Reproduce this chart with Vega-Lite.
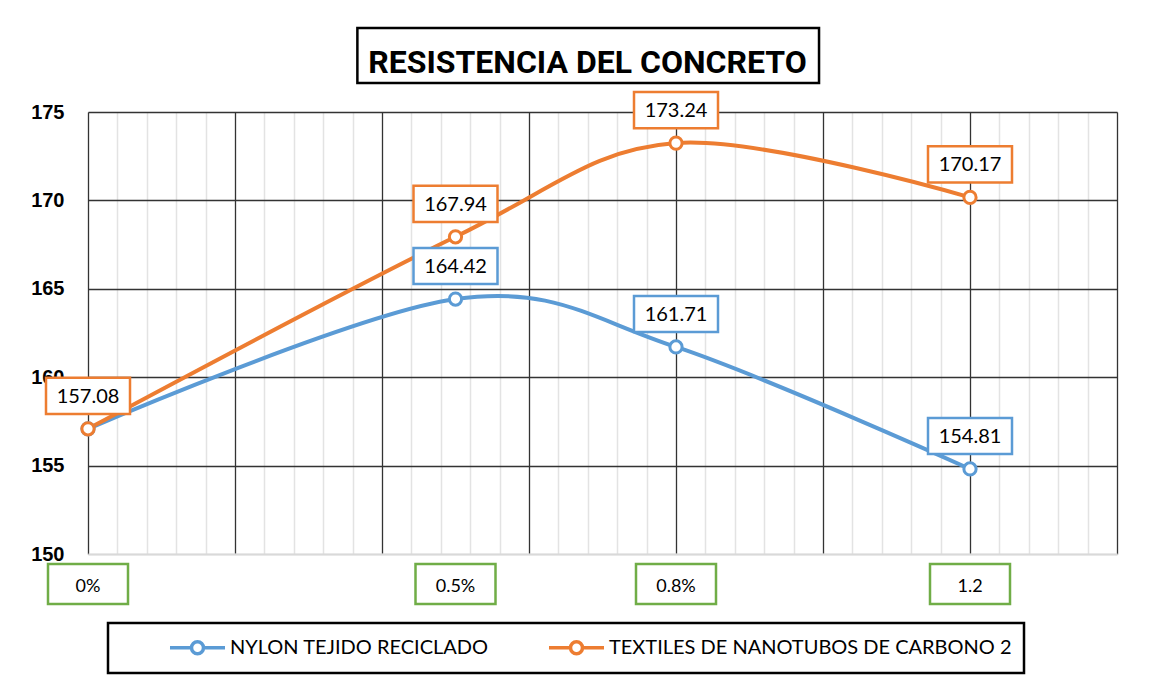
{
  "$schema": "https://vega.github.io/schema/vega-lite/v6.json",
  "width": 1029,
  "height": 442,
  "autosize": {"type": "none"},
  "padding": {"left": 88, "top": 112, "right": 36, "bottom": 126},
  "background": "white",
  "title": {
    "text": "RESISTENCIA DEL CONCRETO",
    "font": "Roboto",
    "fontSize": 32,
    "fontWeight": "bold",
    "color": "black",
    "anchor": "middle",
    "baseline": "alphabetic",
    "dx": -15,
    "offset": -78
  },
  "datasets": {
    "series": [
      {"series": "NYLON TEJIDO RECICLADO", "x": 0, "value": 157.08},
      {"series": "NYLON TEJIDO RECICLADO", "x": 0.5, "value": 164.42},
      {"series": "NYLON TEJIDO RECICLADO", "x": 0.8, "value": 161.71},
      {"series": "NYLON TEJIDO RECICLADO", "x": 1.2, "value": 154.81},
      {"series": "TEXTILES DE NANOTUBOS DE CARBONO 2", "x": 0, "value": 157.08},
      {"series": "TEXTILES DE NANOTUBOS DE CARBONO 2", "x": 0.5, "value": 167.94},
      {"series": "TEXTILES DE NANOTUBOS DE CARBONO 2", "x": 0.8, "value": 173.24},
      {"series": "TEXTILES DE NANOTUBOS DE CARBONO 2", "x": 1.2, "value": 170.17}
    ],
    "cats": [
      {"x": 0, "label": "0%"},
      {"x": 0.5, "label": "0.5%"},
      {"x": 0.8, "label": "0.8%"},
      {"x": 1.2, "label": "1.2"}
    ]
  },
  "resolve": {"axis": {"x": "independent"}},
  "layer": [
    {
      "data": {"name": "series"},
      "mark": {"type": "line", "interpolate": "cardinal", "strokeWidth": 4},
      "encoding": {
        "x": {
          "field": "x", "type": "quantitative",
          "scale": {"domain": [0, 1.4], "nice": false, "zero": false},
          "axis": {
            "orient": "bottom",
            "values": [0.04,0.08,0.12,0.16,0.24,0.28,0.32,0.36,0.44,0.48,0.52,0.56,0.64,0.68,0.72,0.76,0.84,0.88,0.92,0.96,1.04,1.08,1.12,1.16,1.24,1.28,1.32,1.36],
            "grid": true, "gridColor": "#e3e3e3", "gridWidth": 1.5,
            "labels": false, "ticks": false, "title": null,
            "domain": true, "domainColor": "#d9d9d9", "domainWidth": 2
          }
        },
        "y": {
          "field": "value", "type": "quantitative",
          "scale": {"domain": [150, 175], "nice": false, "zero": false},
          "axis": {
            "values": [150, 155, 160, 165, 170, 175],
            "grid": true,
            "gridColor": {"condition": {"test": "datum.value === 150", "value": "#d9d9d9"}, "value": "#333333"},
            "gridWidth": 1.3,
            "ticks": false, "domain": false, "title": null,
            "labelFont": "Liberation Sans", "labelFontSize": 20, "labelFontWeight": "bold",
            "labelColor": "black", "labelPadding": 24
          }
        },
        "color": {
          "field": "series", "type": "nominal",
          "scale": {"domain": ["NYLON TEJIDO RECICLADO", "TEXTILES DE NANOTUBOS DE CARBONO 2"], "range": ["#5B9BD5", "#ED7D31"]},
          "legend": {
            "title": null,
            "orient": "none",
            "direction": "horizontal",
            "legendX": 20,
            "legendY": 511,
            "padding": 12,
            "symbolOffset": 65,
            "strokeColor": "black",
            "fillColor": "white",
            "symbolType": "M-2.62,0H-0.57M0.57,0H2.62M0.57,0A0.57,0.57,0,1,1,-0.57,0A0.57,0.57,0,1,1,0.57,0",
            "symbolSize": 441,
            "symbolStrokeWidth": 3.5,
            "symbolFillColor": "white",
            "labelFont": "Lato",
            "labelFontSize": 20,
            "labelColor": "black",
            "labelOffset": 20,
            "labelLimit": 500,
            "columnPadding": 10,
            "encode": {"legend": {"update": {"strokeWidth": {"value": 2.5}}}}
          }
        }
      }
    },
    {
      "data": {"name": "series"},
      "mark": {"type": "point", "filled": false, "fill": "white", "size": 150, "strokeWidth": 3, "opacity": 1},
      "encoding": {
        "x": {
          "field": "x", "type": "quantitative",
          "axis": {
            "orient": "top",
            "values": [0, 0.2, 0.4, 0.6, 0.8, 1, 1.2, 1.4],
            "grid": true, "gridColor": "#333333", "gridWidth": 1.3,
            "labels": false, "ticks": false, "domain": false, "title": null
          }
        },
        "y": {"field": "value", "type": "quantitative"},
        "color": {"field": "series", "type": "nominal", "legend": null}
      }
    },
    {
      "data": {"name": "series"},
      "transform": [{"filter": "!(datum.series === 'NYLON TEJIDO RECICLADO' && datum.x === 0)"}],
      "mark": {"type": "point", "shape": "M-1,-0.43L1,-0.43L1,0.43L-1,0.43Z", "filled": false, "fill": "white", "size": 7056, "strokeWidth": 2.5, "opacity": 1, "yOffset": -33},
      "encoding": {
        "x": {"field": "x", "type": "quantitative", "axis": null},
        "y": {"field": "value", "type": "quantitative"},
        "color": {"field": "series", "type": "nominal", "legend": null}
      }
    },
    {
      "data": {"name": "series"},
      "transform": [{"filter": "!(datum.series === 'NYLON TEJIDO RECICLADO' && datum.x === 0)"}],
      "mark": {"type": "text", "font": "Lato", "fontSize": 20, "color": "black", "baseline": "middle", "align": "center", "yOffset": -32},
      "encoding": {
        "x": {"field": "x", "type": "quantitative", "axis": null},
        "y": {"field": "value", "type": "quantitative"},
        "text": {"field": "value", "type": "quantitative", "format": ".2f"}
      }
    },
    {
      "data": {"name": "cats"},
      "mark": {"type": "point", "shape": "M-1,-0.5L1,-0.5L1,0.5L-1,0.5Z", "filled": false, "fill": "white", "stroke": "#70AD47", "size": 6400, "strokeWidth": 2.5, "opacity": 1, "yOffset": 30, "clip": false},
      "encoding": {
        "x": {"field": "x", "type": "quantitative", "axis": null},
        "y": {"datum": 150, "type": "quantitative"}
      }
    },
    {
      "data": {"name": "cats"},
      "mark": {"type": "text", "font": "Lato", "fontSize": 18, "color": "black", "baseline": "middle", "align": "center", "yOffset": 33},
      "encoding": {
        "x": {"field": "x", "type": "quantitative", "axis": null},
        "y": {"datum": 150, "type": "quantitative"},
        "text": {"field": "label", "type": "nominal"}
      }
    },
    {
      "data": {"values": [{}]},
      "mark": {"type": "rect", "fill": null, "stroke": "black", "strokeWidth": 2.5, "clip": false},
      "encoding": {
        "x": {"datum": 0.3665, "type": "quantitative", "axis": null},
        "x2": {"datum": 0.9946},
        "y": {"datum": 179.75, "type": "quantitative"},
        "y2": {"datum": 176.64}
      }
    }
  ]
}
